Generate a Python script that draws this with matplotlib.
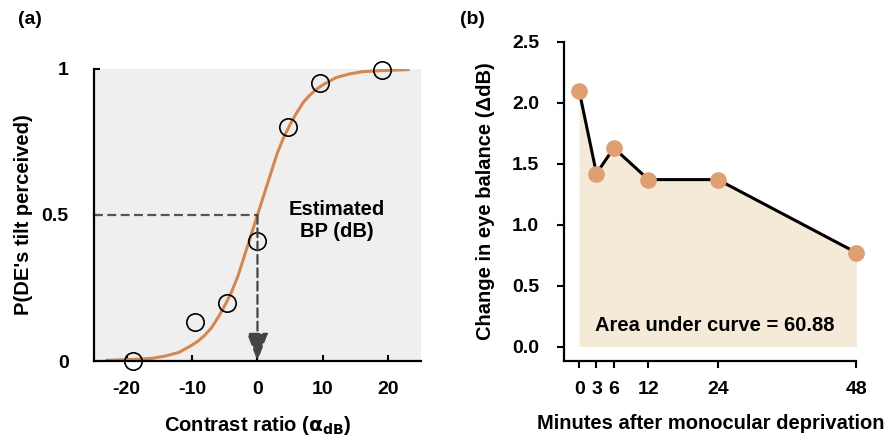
import matplotlib
matplotlib.use("Agg")
import matplotlib.pyplot as plt

plt.rcParams['font.family'] = ['Liberation Sans', 'DejaVu Sans']
plt.rcParams['font.weight'] = 'bold'
plt.rcParams['axes.labelweight'] = 'bold'
plt.rcParams['font.size'] = 14.5

# panel (a): psychometric data
contrast = [-19, -9.6, -4.7, 0, 4.6, 9.5, 19.1]
p_tilt = [0.0, 0.134, 0.20, 0.41, 0.80, 0.95, 0.995]

# fitted curve
fit_x = [-23, -19, -16, -14, -12, -10, -9, -8, -7, -6, -5, -4, -3, -2, -1, 0,
         1, 2, 3, 4, 5, 6, 7, 8, 9, 10, 12, 14, 16, 19, 23]
fit_y = [0.003, 0.006, 0.010, 0.018, 0.030, 0.055, 0.070, 0.090, 0.115, 0.150,
         0.190, 0.235, 0.290, 0.360, 0.430, 0.500, 0.570, 0.640, 0.710, 0.765,
         0.810, 0.850, 0.885, 0.910, 0.930, 0.945, 0.970, 0.982, 0.990, 0.994,
         0.997]
bp_estimate = 0
a_xticks = [-20, -10, 0, 10, 20]
a_yticks = [0, 0.5, 1]
a_yticklabels = ['0', '0.5', '1']

# panel (b): change in eye balance over time
minutes = [0, 3, 6, 12, 24, 48]
balance = [2.10, 1.42, 1.63, 1.37, 1.37, 0.77]
b_yticks = [0.0, 0.5, 1.0, 1.5, 2.0, 2.5]
auc_text = 'Area under curve = 60.88'

orange = '#d4884f'
dot = '#e09f70'
fill = '#f5ead8'

fig = plt.figure(figsize=(8.94, 4.41), dpi=100)

# ---- (a)
ax = fig.add_axes([0.105, 0.181, 0.366, 0.663])
ax.set_facecolor('#efefef')
ax.plot(fit_x, fit_y, color=orange, lw=2.2, zorder=2)
ax.plot(contrast, p_tilt, 'o', mfc='none', mec='black', mew=1.2, ms=12.5,
        zorder=3, clip_on=False)
ax.plot([-25, bp_estimate], [0.5, 0.5], ls=(0, (4, 2)), color='#555555', lw=1.6)
ax.annotate('', xy=(bp_estimate, 0.0), xytext=(bp_estimate, 0.5),
            arrowprops=dict(arrowstyle='-|>,head_length=1.2,head_width=0.45',
                            color='#444444', lw=1.6, ls=(0, (4, 2)),
                            shrinkA=0, shrinkB=0))
ax.text(12.1, 0.48, 'Estimated\nBP (dB)', ha='center', va='center',
        fontsize=14.5, linespacing=1.2)
ax.set_xlim(-25, 25)
ax.set_ylim(0, 1)
ax.spines['top'].set_visible(False)
ax.spines['right'].set_visible(False)
for s in ('left', 'bottom'):
    ax.spines[s].set_linewidth(1.6)
ax.set_xticks(a_xticks)
ax.set_xticklabels(['-20', '-10', '0', '10', '20'])
ax.set_yticks(a_yticks)
ax.set_yticklabels(a_yticklabels)
ax.tick_params(direction='in', length=4, width=1.5, labelsize=14)
ax.tick_params(axis='x', pad=14)
ax.tick_params(axis='y', pad=18)
ax.set_xlabel(r'Contrast ratio ($\mathbf{\alpha}_{\mathbf{dB}}$)', labelpad=12)
ax.set_ylabel("P(DE's tilt perceived)", labelpad=6)

# ---- (b)
bx = fig.add_axes([0.631, 0.181, 0.327, 0.724])
bx.fill_between(minutes, 0, balance, color=fill, lw=0, zorder=1)
bx.plot(minutes, balance, color='black', lw=2.2, zorder=2)
bx.plot(minutes, balance, 'o', color=dot, ms=11, zorder=3, clip_on=False)
bx.text(23.5, 0.17, auc_text, ha='center', va='center', fontsize=14.5)
bx.set_xlim(-2.6, 48)
bx.set_ylim(-0.12, 2.5)
bx.spines['top'].set_visible(False)
bx.spines['right'].set_visible(False)
for s in ('left', 'bottom'):
    bx.spines[s].set_linewidth(1.6)
bx.set_xticks(minutes)
bx.set_xticklabels([str(m) for m in minutes])
bx.set_yticks(b_yticks)
bx.set_yticklabels(['%.1f' % v for v in b_yticks])
bx.tick_params(direction='out', length=5, width=1.5, labelsize=14)
bx.tick_params(axis='x', pad=9)
bx.tick_params(axis='y', pad=13)
bx.set_xlabel('Minutes after monocular deprivation', labelpad=12)
bx.set_ylabel('Change in eye balance (ΔdB)', labelpad=12)

fig.text(0.02, 0.955, '(a)', fontsize=14, va='center')
fig.text(0.515, 0.955, '(b)', fontsize=14, va='center')

fig.savefig('out.png', dpi=100)
